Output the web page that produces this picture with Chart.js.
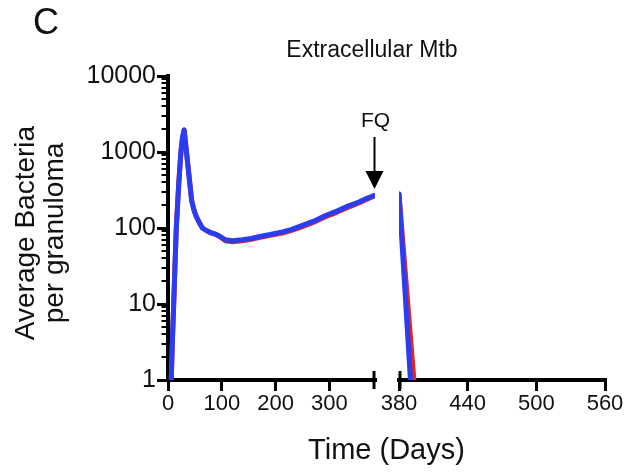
<!DOCTYPE html>
<html>
<head>
<meta charset="utf-8">
<script src="https://cdn.jsdelivr.net/npm/chart.js@4.4.1/dist/chart.umd.min.js"></script>
<style>
html,body{margin:0;padding:0;background:#fff;}
canvas{display:block;}
</style>
</head>
<body>
<canvas id="chart" width="631" height="473"></canvas>
<script>
// ---- text ----
const panelLabel = 'C';
const chartTitle = 'Extracellular Mtb';
const yTitleLines = ['Average Bacteria', 'per granuloma'];
const xTitle = 'Time (Days)';
const annotationText = 'FQ';
const annotationDay = 383;

// ---- data ----
// before FQ treatment (first axis segment)
const preDays   = [6, 8, 10.6, 13, 15.4, 20, 24, 27, 30, 44, 48, 52, 58, 64, 72, 79, 88, 95, 107, 120, 138, 155, 169, 190, 213, 230, 250, 270, 293, 315, 337, 355, 368, 376, 383];
const bluePre   = [1, 3, 10, 32, 100, 380, 1000, 1550, 1950, 230, 175, 145, 118, 100, 92, 87, 83, 79, 70, 68, 70, 73, 77, 82, 89, 96, 108, 122, 146, 168, 197, 220, 243, 255, 268];
const redPre    = [1, 3, 10, 32, 100, 380, 1000, 1550, 1950, 230, 175, 145, 118, 100, 92, 87, 83, 78, 68, 66, 68, 71, 75, 80, 86, 93, 104, 118, 141, 162, 190, 213, 236, 250, 262];
// after FQ treatment (second axis segment)
const bluePostDays = [380, 390];
const bluePost     = [280, 1];
const redPostDays  = [380, 393];
const redPost      = [280, 1];

// ---- ticks ----
const xTicksPre  = [0, 100, 200, 300];
const xTicksPost = [380, 440, 500, 560];
const yTicksMajor = [1, 10, 100, 1000, 10000];
const yTicksMinor = [];
yTicksMajor.slice(0, -1).forEach(d => { for (let k = 2; k <= 9; k++) yTicksMinor.push(d * k); });

const BLUE = '#2a3cf4';
const RED = '#e4261c';
const FONT = "'Liberation Sans', Arial, Helvetica, sans-serif";
const INK = '#111';

const toPts = (xs, ys) => xs.map((x, i) => ({x: x, y: ys[i]}));

const decor = {
  id: 'decor',
  afterDraw(chart) {
    const {ctx, chartArea, scales} = chart;
    const y = scales.y, x1 = scales.x1, x2 = scales.x2;
    ctx.save();
    ctx.strokeStyle = '#000';
    // minor ticks of the log axis
    ctx.lineWidth = 2;
    yTicksMinor.forEach(v => {
      const py = Math.round(y.getPixelForValue(v));
      ctx.beginPath();
      ctx.moveTo(chartArea.left - 6.5, py);
      ctx.lineTo(chartArea.left, py);
      ctx.stroke();
    });
    // axis break caps
    ctx.lineWidth = 3;
    [x1.right - 1, x2.left + 1].forEach(px => {
      ctx.beginPath();
      ctx.moveTo(px, chartArea.bottom - 9);
      ctx.lineTo(px, chartArea.bottom + 9);
      ctx.stroke();
    });
    // texts
    ctx.fillStyle = INK;
    ctx.textAlign = 'center';
    ctx.textBaseline = 'middle';
    ctx.font = '36px ' + FONT;
    ctx.fillText(panelLabel, 46, 24);
    ctx.font = '23px ' + FONT;
    ctx.fillText(chartTitle, 372, 51);
    // y title (two lines, rotated)
    ctx.font = '28px ' + FONT;
    [[yTitleLines[0], 26], [yTitleLines[1], 55]].forEach(([t, tx]) => {
      ctx.save();
      ctx.translate(tx, 233);
      ctx.rotate(-Math.PI / 2);
      ctx.fillText(t, 0, 0);
      ctx.restore();
    });
    // FQ annotation
    const ax = Math.round(x1.getPixelForValue(annotationDay)) + 0.5;
    ctx.font = '21px ' + FONT;
    ctx.fillText(annotationText, ax + 1, 121);
    ctx.lineWidth = 2;
    ctx.beginPath();
    ctx.moveTo(ax, 137);
    ctx.lineTo(ax, 174);
    ctx.stroke();
    ctx.fillStyle = '#000';
    ctx.beginPath();
    ctx.moveTo(ax - 9, 171);
    ctx.lineTo(ax + 9, 171);
    ctx.lineTo(ax, 189);
    ctx.closePath();
    ctx.fill();
    ctx.restore();
  }
};

const xCommon = (min, max, ticksArr, weight) => ({
  type: 'linear',
  position: 'bottom',
  stack: 'time',
  stackWeight: weight,
  min: min,
  max: max,
  offset: false,
  afterBuildTicks: s => { s.ticks = ticksArr.map(v => ({value: v})); },
  afterFit: s => { s.height = 50; },
  grid: {drawOnChartArea: false, drawTicks: true, tickLength: 11, tickWidth: 3, tickColor: '#000', lineWidth: 3, color: '#000'},
  border: {display: true, color: '#000', width: 4},
  ticks: {autoSkip: false, maxRotation: 0, minRotation: 0, padding: 2, color: INK, font: {family: FONT, size: 22, lineHeight: 1}}
});

new Chart(document.getElementById('chart'), {
  type: 'line',
  data: {
    datasets: [
      {label: 'blue before FQ', xAxisID: 'x1', yAxisID: 'y', data: toPts(preDays, bluePre), borderColor: BLUE, borderWidth: 5},
      {label: 'blue after FQ', xAxisID: 'x2', yAxisID: 'y', data: toPts(bluePostDays, bluePost), borderColor: BLUE, borderWidth: 5},
      {label: 'red before FQ', xAxisID: 'x1', yAxisID: 'y', data: toPts(preDays, redPre), borderColor: RED, borderWidth: 5},
      {label: 'red after FQ', xAxisID: 'x2', yAxisID: 'y', data: toPts(redPostDays, redPost), borderColor: RED, borderWidth: 5}
    ]
  },
  options: {
    responsive: false,
    animation: false,
    devicePixelRatio: 1,
    layout: {padding: {left: 0, top: 76, right: 26, bottom: 0}},
    elements: {
      point: {radius: 0, hoverRadius: 0},
      line: {tension: 0, borderCapStyle: 'round', borderJoinStyle: 'round', fill: false}
    },
    plugins: {
      legend: {display: false},
      tooltip: {enabled: false},
      title: {display: false},
      subtitle: {
        display: true, text: xTitle, position: 'bottom', fullSize: false,
        color: INK, font: {family: FONT, size: 29, lineHeight: 1.2, weight: 'normal'},
        padding: {top: 3.6, bottom: 4.6}
      }
    },
    scales: {
      x1: xCommon(0, 385, xTicksPre, 207),
      xgap: Object.assign(xCommon(0, 1, [], 24), {display: false}),
      x2: xCommon(380, 560, xTicksPost, 206),
      y: {
        type: 'logarithmic',
        position: 'left',
        min: 1,
        max: 10000,
        afterFit: s => { s.width = 168; },
        afterBuildTicks: s => { s.ticks = yTicksMajor.map(v => ({value: v, major: true})); },
        grid: {drawOnChartArea: false, drawTicks: true, tickLength: 11, tickWidth: 3, tickColor: '#000', lineWidth: 3, color: '#000'},
        border: {display: true, color: '#000', width: 4},
        ticks: {autoSkip: false, padding: 1, color: INK, font: {family: FONT, size: 25, lineHeight: 1}, callback: v => String(v)}
      }
    }
  },
  plugins: [decor]
});
</script>
</body>
</html>
